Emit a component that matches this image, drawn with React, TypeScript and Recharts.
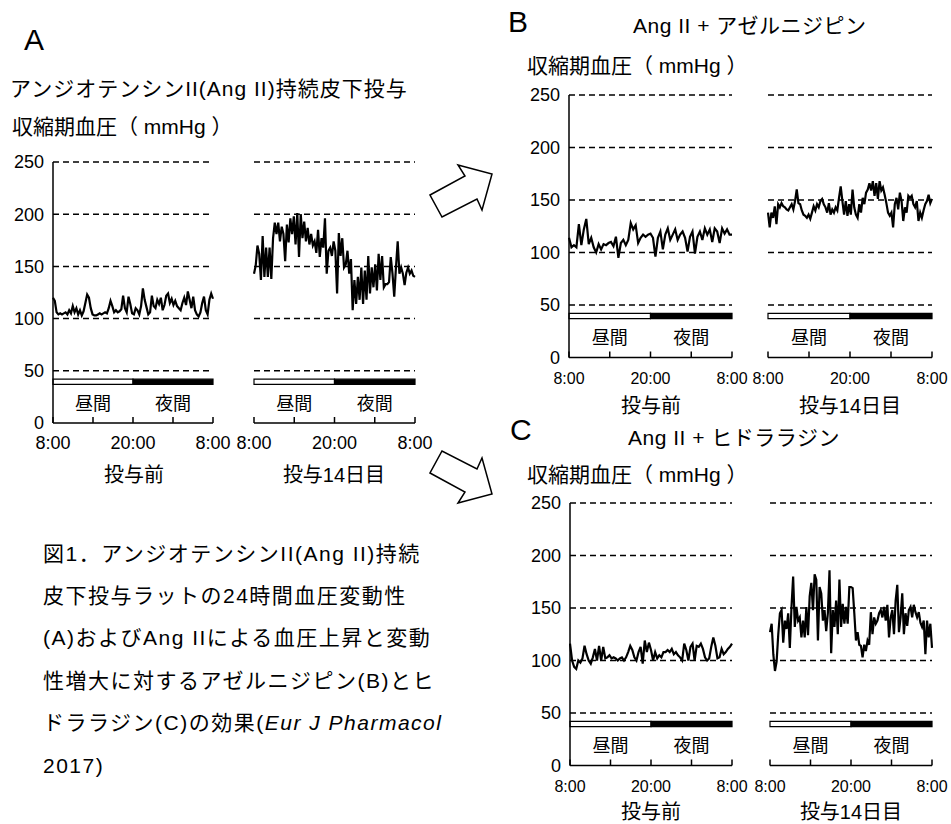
import React from "react";
import { LineChart, Line, XAxis, YAxis, ReferenceLine, ReferenceArea } from "recharts";

// time axis: hours after 8:00
const hours = [0, 6, 12, 18, 24];
const yTicks = [0, 50, 100, 150, 200, 250];
const gridValues = [50, 100, 150, 200, 250];

// A: Ang II infusion, systolic BP (mmHg)
const angPre = [
  120, 117, 106, 104, 105, 104, 105, 106, 104, 108, 105, 112, 106, 110, 104, 108, 103, 107, 115, 123,
  120, 110, 104, 103, 103, 104, 105, 104, 105, 106, 105, 110, 117, 112, 106, 108, 106, 107, 109, 122,
  110, 106, 121, 114, 105, 104, 110, 108, 104, 112, 129, 118, 111, 104, 106, 122, 112, 110, 118, 114,
  120, 108, 113, 122, 124, 115, 119, 113, 117, 112, 110, 108, 115, 120, 113, 126, 118, 110, 121, 108,
  104, 102, 106, 115, 121, 108, 104, 118, 124, 119,
];
const angDay14 = [
  143, 151, 170, 162, 137, 179, 140, 168, 140, 168, 138, 177, 192, 181, 192, 174, 188, 181, 155, 190,
  173, 196, 181, 198, 171, 201, 159, 200, 177, 193, 174, 187, 171, 181, 170, 174, 163, 185, 159, 177,
  168, 196, 143, 165, 168, 160, 174, 165, 124, 182, 160, 177, 149, 152, 165, 143, 157, 108, 137, 114,
  140, 118, 149, 114, 146, 118, 160, 124, 149, 130, 152, 127, 162, 137, 160, 130, 133, 133, 135, 159,
  143, 121, 149, 174, 143, 149, 143, 132, 144, 149, 143, 146, 141, 140,
];

// B: Ang II + azelnidipine
const azePre = [
  114, 105, 107, 105, 127, 107, 122, 132, 108, 114, 105, 100, 108, 103, 108, 107, 109, 110, 106, 115,
  95, 109, 112, 107, 112, 128, 122, 126, 109, 114, 117, 115, 117, 118, 114, 96, 114, 120, 103, 117,
  123, 112, 117, 122, 112, 117, 120, 114, 101, 115, 120, 99, 115, 120, 112, 123, 117, 122, 110, 123,
  120, 109, 123, 118, 122, 117, 117,
];
const azeDay14 = [
  138, 124, 138, 133, 144, 127, 146, 143, 147, 144, 143, 141, 140, 143, 146, 141, 149, 160, 147, 146,
  140, 136, 135, 133, 136, 132, 138, 144, 140, 146, 143, 149, 151, 146, 143, 138, 147, 136, 141, 138,
  143, 140, 152, 163, 149, 136, 149, 135, 146, 136, 160, 143, 136, 133, 146, 138, 152, 146, 157, 160,
  166, 159, 168, 154, 166, 151, 168, 159, 162, 155, 147, 138, 135, 138, 124, 146, 152, 141, 157, 149,
  130, 143, 138, 154, 152, 154, 146, 143, 149, 130, 138, 133, 140, 146, 149, 155, 147, 151,
];

// C: Ang II + hydralazine
const hydPre = [
  116, 100, 94, 92, 100, 98, 102, 114, 106, 100, 97, 103, 111, 100, 114, 100, 113, 102, 103, 105,
  102, 103, 102, 100, 102, 103, 100, 103, 108, 114, 110, 103, 100, 108, 113, 97, 119, 108, 117, 110,
  100, 108, 102, 105, 103, 108, 108, 110, 108, 111, 106, 108, 105, 103, 100, 116, 110, 100, 113, 116,
  100, 114, 113, 116, 111, 103, 100, 102, 113, 122, 114, 102, 103, 111, 106, 108, 111, 113, 116,
];
const hydDay14 = [
  127, 135, 106, 90, 99, 125, 145, 148, 117, 138, 130, 145, 112, 151, 180, 132, 151, 138, 141, 122,
  138, 122, 151, 124, 161, 174, 148, 182, 177, 119, 170, 164, 138, 148, 128, 145, 186, 107, 148, 132,
  157, 125, 177, 132, 154, 135, 151, 135, 170, 170, 169, 145, 119, 127, 115, 114, 103, 115, 109, 119,
  115, 146, 125, 141, 135, 138, 145, 148, 141, 151, 138, 153, 122, 141, 148, 125, 157, 172, 127, 141,
  164, 125, 145, 133, 148, 151, 141, 153, 146, 141, 146, 136, 132, 138, 106, 138, 122, 135, 112,
];

const toRows = (vals: number[]) =>
  vals.map((v, i) => ({ t: (i * 24) / (vals.length - 1), v }));

const HourTick = (props: any) => {
  const { x, y, payload, fontSize } = props;
  const v = payload.value;
  const label = v === 0 || v === 24 ? "8:00" : v === 12 ? "20:00" : "";
  return (
    <g>
      <line x1={x} y1={y} x2={x} y2={y - 6} stroke="#000" strokeWidth={1.5} />
      {label && (
        <text x={x} y={y + 26} textAnchor="middle" fontSize={fontSize} fill="#000">
          {label}
        </text>
      )}
    </g>
  );
};

type SubProps = {
  values: number[];
  x: number;
  y: number;
  pw: number;
  ph: number;
  showY: boolean;
  tickFont: number;
};

const Sub = ({ values, x, y, pw, ph, showY, tickFont }: SubProps) => {
  const yw = showY ? 50 : 20;
  return (
    <div style={{ position: "absolute", left: x - yw, top: y - 10 }}>
      <LineChart
        width={yw + pw + 24}
        height={ph + 40}
        data={toRows(values)}
        margin={{ top: 10, right: 24, bottom: 0, left: showY ? 0 : 20 }}
      >
        <XAxis
          dataKey="t"
          type="number"
          domain={[0, 24]}
          ticks={hours}
          interval={0}
          height={30}
          tickSize={0}
          tickMargin={0}
          tickLine={false}
          axisLine={{ stroke: "#000", strokeWidth: 1.5 }}
          tick={(p: any) => <HourTick {...p} fontSize={tickFont} />}
        />
        <YAxis
          type="number"
          domain={[0, 250]}
          ticks={yTicks}
          interval={0}
          hide={!showY}
          width={50}
          tickLine={false}
          tickSize={0}
          tickMargin={9}
          axisLine={{ stroke: "#000", strokeWidth: 1.5 }}
          tick={{ fill: "#000", fontSize: 18 }}
        />
        {gridValues.map((g) => (
          <ReferenceLine key={g} y={g} stroke="#000" strokeWidth={1.5} strokeDasharray="6 4" />
        ))}
        <ReferenceArea x1={0} x2={12} y1={37} y2={42} fill="#fff" fillOpacity={1} stroke="#000" strokeWidth={1.2} />
        <ReferenceArea x1={12} x2={24} y1={37} y2={42} fill="#000" fillOpacity={1} stroke="#000" strokeWidth={1.2} />
        <ReferenceArea
          x1={0}
          x2={12}
          y1={8}
          y2={30}
          fillOpacity={0}
          label={{ value: "昼間", position: "center", fontSize: 18, fill: "#000" }}
        />
        <ReferenceArea
          x1={12}
          x2={24}
          y1={8}
          y2={30}
          fillOpacity={0}
          label={{ value: "夜間", position: "center", fontSize: 18, fill: "#000" }}
        />
        <Line
          type="linear"
          dataKey="v"
          stroke="#000"
          strokeWidth={2.2}
          dot={false}
          isAnimationActive={false}
        />
      </LineChart>
    </div>
  );
};

const Txt = ({ x, y, size, children, center, ls }: any) => (
  <div
    style={{
      position: "absolute",
      left: center ? x - 150 : x,
      width: center ? 300 : undefined,
      textAlign: center ? "center" : "left",
      top: y - size / 2,
      fontSize: size,
      lineHeight: `${size}px`,
      letterSpacing: ls ?? 0,
      whiteSpace: "nowrap",
    }}
  >
    {children}
  </div>
);

const App = () => {
  const font = "'Liberation Sans', 'Noto Sans CJK JP', sans-serif";
  return (
    <div
      style={{
        position: "absolute",
        left: 0,
        top: 0,
        width: 951,
        height: 824,
        background: "#fff",
        color: "#000",
        fontFamily: font,
      }}
    >
      {/* panel A */}
      <Txt x={24} y={40} size={30}>A</Txt>
      <Txt x={10} y={88} size={21} ls={1}>アンジオテンシンII(Ang II)持続皮下投与</Txt>
      <Txt x={12} y={126} size={21}>収縮期血圧（ mmHg ）</Txt>
      <Sub values={angPre} x={53} y={161.5} pw={160} ph={261} showY tickFont={18} />
      <Sub values={angDay14} x={254} y={161.5} pw={161} ph={261} showY={false} tickFont={18} />
      <Txt x={134} y={475} size={20} center>投与前</Txt>
      <Txt x={334} y={475} size={20} center>投与14日目</Txt>

      {/* panel B */}
      <Txt x={508} y={22} size={30}>B</Txt>
      <Txt x={633} y={25} size={21} ls={0.5}>Ang II + アゼルニジピン</Txt>
      <Txt x={527} y={65} size={21}>収縮期血圧（ mmHg ）</Txt>
      <Sub values={azePre} x={569} y={94.5} pw={163} ph={262.5} showY tickFont={16} />
      <Sub values={azeDay14} x={768} y={94.5} pw={164} ph={262.5} showY={false} tickFont={16} />
      <Txt x={651} y={406} size={20} center>投与前</Txt>
      <Txt x={850} y={406} size={20} center>投与14日目</Txt>

      {/* panel C */}
      <Txt x={510} y={430} size={30}>C</Txt>
      <Txt x={628} y={437} size={21} ls={0.5}>Ang II + ヒドララジン</Txt>
      <Txt x={527} y={474} size={21}>収縮期血圧（ mmHg ）</Txt>
      <Sub values={hydPre} x={570} y={502.5} pw={162} ph={262.5} showY tickFont={16} />
      <Sub values={hydDay14} x={770} y={502.5} pw={162} ph={262.5} showY={false} tickFont={16} />
      <Txt x={651} y={812} size={20} center>投与前</Txt>
      <Txt x={851} y={812} size={20} center>投与14日目</Txt>

      {/* arrows */}
      <svg width={951} height={824} style={{ position: "absolute", left: 0, top: 0, pointerEvents: "none" }}>
        <polygon
          points="430,195 465,176 458,165 492,174 482,210 477,199 442,217"
          fill="#fff"
          stroke="#000"
          strokeWidth={1.5}
        />
        <polygon
          points="430,473 465,492 458,503 492,494 482,458 477,469 442,451"
          fill="#fff"
          stroke="#000"
          strokeWidth={1.5}
        />
      </svg>

      {/* caption */}
      <Txt x={43} y={553} size={21} ls={1.5}>図1．アンジオテンシンII(Ang II)持続</Txt>
      <Txt x={43} y={595} size={21} ls={1.5}>皮下投与ラットの24時間血圧変動性</Txt>
      <Txt x={43} y={637} size={21} ls={1.5}>(A)およびAng IIによる血圧上昇と変動</Txt>
      <Txt x={43} y={680} size={21} ls={1.5}>性増大に対するアゼルニジピン(B)とヒ</Txt>
      <Txt x={43} y={722} size={21} ls={1.5}>
        ドララジン(C)の効果(<i>Eur J Pharmacol</i>
      </Txt>
      <Txt x={43} y={765} size={21} ls={1.5}>2017)</Txt>
    </div>
  );
};

export default App;
